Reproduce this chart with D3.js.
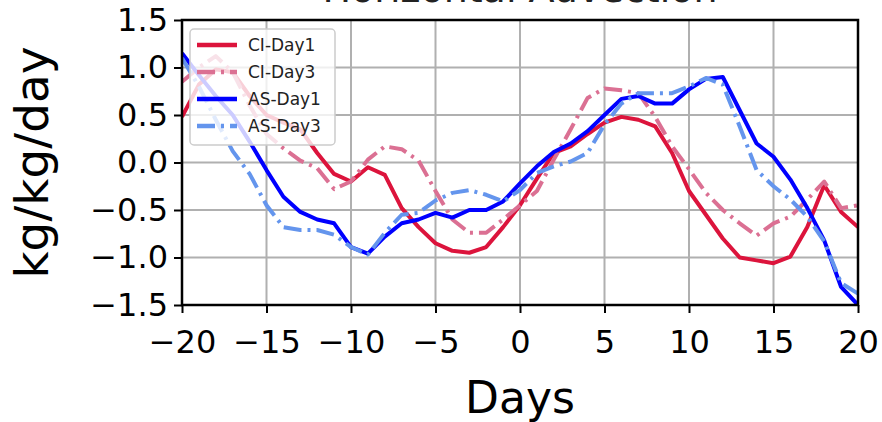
<!DOCTYPE html>
<html>
<head>
<meta charset="utf-8">
<script src="https://cdn.jsdelivr.net/npm/d3@7"></script>
<style>
  html, body { margin: 0; padding: 0; background: #fff; }
  svg { display: block; font-family: "DejaVu Sans", sans-serif; }
</style>
</head>
<body>
<svg id="chart" width="882" height="422"></svg>
<script>
// Lag in days relative to event onset
const days = d3.range(-20, 21);

// Composite advection anomalies (kg/kg/day)
const ciDay1 = [0.48, 0.82, 0.98, 0.95, 0.70, 0.50, 0.42, 0.35, 0.10, -0.12,
  -0.20, -0.05, -0.13, -0.48, -0.68, -0.85, -0.93, -0.95, -0.89, -0.68,
  -0.45, -0.17, 0.10, 0.17, 0.30, 0.42, 0.48, 0.45, 0.38, 0.10,
  -0.30, -0.55, -0.80, -1.00, -1.03, -1.06, -0.99, -0.68, -0.24, -0.52, -0.68];
const ciDay3 = [0.85, 1.00, 1.12, 0.95, 0.60, 0.30, 0.15, 0.02, -0.06, -0.28,
  -0.20, 0.03, 0.17, 0.14, 0.02, -0.30, -0.60, -0.74, -0.74, -0.60,
  -0.45, -0.30, 0.03, 0.35, 0.68, 0.78, 0.76, 0.73, 0.48, 0.17,
  -0.07, -0.32, -0.50, -0.64, -0.77, -0.64, -0.57, -0.39, -0.20, -0.48, -0.45];
const asDay1 = [1.15, 0.92, 0.70, 0.50, 0.22, -0.08, -0.36, -0.52, -0.60, -0.64,
  -0.89, -0.96, -0.78, -0.64, -0.60, -0.53, -0.58, -0.50, -0.50, -0.41,
  -0.22, -0.04, 0.11, 0.20, 0.33, 0.50, 0.67, 0.70, 0.62, 0.62,
  0.77, 0.88, 0.90, 0.55, 0.20, 0.06, -0.18, -0.48, -0.82, -1.31, -1.50];
const asDay3 = [1.10, 0.80, 0.45, 0.12, -0.12, -0.45, -0.68, -0.71, -0.71, -0.76,
  -0.89, -0.97, -0.74, -0.55, -0.53, -0.40, -0.32, -0.29, -0.34, -0.41,
  -0.29, -0.11, -0.04, 0.01, 0.10, 0.40, 0.62, 0.73, 0.73, 0.73,
  0.80, 0.89, 0.82, 0.38, -0.08, -0.25, -0.39, -0.57, -0.83, -1.27, -1.38];

const seriesNames = ["CI-Day1", "CI-Day3", "AS-Day1", "AS-Day3"];
const seriesValues = [ciDay1, ciDay3, asDay1, asDay3];
const seriesColors = ["#dc143c", "#db7093", "#0000ff", "#6495ed"];
const seriesDash = [null, "18,6,3,6", null, "18,6,3,6"];

const xTicks = [-20, -15, -10, -5, 0, 5, 10, 15, 20];
const yTicks = [-1.5, -1.0, -0.5, 0.0, 0.5, 1.0, 1.5];

const svg = d3.select("#chart");
const m = { left: 182, right: 858, top: 20, bottom: 305 };

const x = d3.scaleLinear().domain([-20, 20]).range([m.left, m.right]);
const y = d3.scaleLinear().domain([-1.5, 1.5]).range([m.bottom, m.top]);

// Title (runs off the top edge of the figure)
svg.append("text")
  .attr("x", (m.left + m.right) / 2).attr("y", 2)
  .attr("text-anchor", "middle")
  .attr("font-size", 38).attr("fill", "#222")
  .text("Horizontal Advection");

// Grid
const grid = svg.append("g");
grid.selectAll("line.gx").data(xTicks).join("line")
  .attr("x1", d => x(d)).attr("x2", d => x(d))
  .attr("y1", m.top).attr("y2", m.bottom)
  .attr("stroke", "#b0b0b0").attr("stroke-width", 2);
grid.selectAll("line.gy").data(yTicks).join("line")
  .attr("y1", d => y(d)).attr("y2", d => y(d))
  .attr("x1", m.left).attr("x2", m.right)
  .attr("stroke", "#b0b0b0").attr("stroke-width", 2);

// Series
svg.append("clipPath").attr("id", "plotClip")
  .append("rect").attr("x", m.left).attr("y", m.top)
  .attr("width", m.right - m.left).attr("height", m.bottom - m.top);

const line = d3.line().x((d, i) => x(days[i])).y(d => y(d));
const plot = svg.append("g").attr("clip-path", "url(#plotClip)");
seriesValues.forEach((vals, k) => {
  plot.append("path")
    .datum(vals)
    .attr("d", line)
    .attr("fill", "none")
    .attr("stroke", seriesColors[k])
    .attr("stroke-width", 4)
    .attr("stroke-linejoin", "round")
    .attr("stroke-dasharray", seriesDash[k]);
});

// Axes
const fmtY = v => d3.format(".1f")(v).replace("-", "\u2212");
const fmtX = v => String(v).replace("-", "\u2212");

const xAxis = svg.append("g").attr("transform", `translate(0,${m.bottom})`)
  .call(d3.axisBottom(x).tickValues(xTicks).tickFormat(fmtX).tickSizeInner(8).tickSizeOuter(0).tickPadding(17));
const yAxis = svg.append("g").attr("transform", `translate(${m.left},0)`)
  .call(d3.axisLeft(y).tickValues(yTicks).tickFormat(fmtY).tickSizeInner(8).tickSizeOuter(0).tickPadding(6));
[xAxis, yAxis].forEach(a => {
  a.select(".domain").remove();
  a.selectAll(".tick line").attr("stroke", "#000").attr("stroke-width", 2);
  a.selectAll(".tick text").attr("fill", "#000").attr("font-size", 32)
    .attr("font-family", "DejaVu Sans, sans-serif");
});

// Frame
svg.append("rect")
  .attr("x", m.left).attr("y", m.top)
  .attr("width", m.right - m.left).attr("height", m.bottom - m.top)
  .attr("fill", "none").attr("stroke", "#000").attr("stroke-width", 2.5);

// Axis labels
svg.append("text")
  .attr("x", (m.left + m.right) / 2).attr("y", 413)
  .attr("text-anchor", "middle").attr("font-size", 44).attr("fill", "#000")
  .text("Days");
svg.append("text")
  .attr("transform", `translate(48,${(m.top + m.bottom) / 2}) rotate(-90)`)
  .attr("text-anchor", "middle").attr("font-size", 47).attr("fill", "#000")
  .text("kg/kg/day");

// Legend
const lg = svg.append("g").attr("transform", "translate(190,29)");
lg.append("rect")
  .attr("width", 145).attr("height", 116).attr("rx", 4)
  .attr("fill", "#fff").attr("fill-opacity", 0.8)
  .attr("stroke", "#cccccc").attr("stroke-width", 1.5);
seriesNames.forEach((name, k) => {
  const yy = 16 + k * 27;
  lg.append("line")
    .attr("x1", 7).attr("x2", 47).attr("y1", yy).attr("y2", yy)
    .attr("stroke", seriesColors[k]).attr("stroke-width", 4.5)
    .attr("stroke-dasharray", seriesDash[k]);
  lg.append("text")
    .attr("x", 58).attr("y", yy + 6)
    .attr("font-size", 17).attr("fill", "#222")
    .text(name);
});
</script>
</body>
</html>
